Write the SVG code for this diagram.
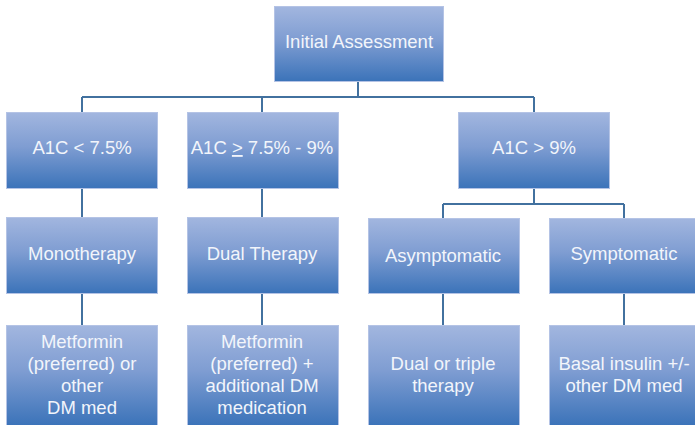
<svg xmlns="http://www.w3.org/2000/svg" width="695" height="425" viewBox="0 0 695 425">
  <defs>
    <linearGradient id="boxFill" x1="0" y1="0" x2="0" y2="1">
      <stop offset="0" stop-color="#a2b6df"/>
      <stop offset="0.45" stop-color="#7f9dd2"/>
      <stop offset="1" stop-color="#3b73b9"/>
    </linearGradient>
  </defs>
  <style>
    .box { fill: url(#boxFill); stroke: #b4c3e5; stroke-width: 1; }
    .lbl { font-family: "Liberation Sans", Arial, sans-serif; font-size: 18.5px; fill: #f2f5fb; text-anchor: middle; }
    .conn { fill: none; stroke: #42719f; stroke-width: 2; }
  </style>

  <g id="connectors">
    <path class="conn" d="M358 81 V97 M82 97 H534 M82 97 V112 M262 97 V112 M534 97 V112"/>
    <path class="conn" d="M82 189 V217 M262 189 V217"/>
    <path class="conn" d="M534 189 V204 M443 204 H624 M443 204 V218 M624 204 V218"/>
    <path class="conn" d="M82 293 V325 M262 293 V325 M443 293 V325 M624 293 V325"/>
  </g>

  <g id="initial">
    <rect class="box" x="274.5" y="6.5" width="169" height="75"/>
    <text class="lbl" x="359" y="48">Initial Assessment</text>
  </g>

  <g id="a1c-low">
    <rect class="box" x="6.5" y="112.5" width="151" height="76"/>
    <text class="lbl" x="82" y="154">A1C &lt; 7.5%</text>
  </g>
  <g id="a1c-mid">
    <rect class="box" x="187.5" y="112.5" width="151" height="76"/>
    <text class="lbl" x="262" y="154">A1C <tspan style="text-decoration: underline">&gt;</tspan> 7.5% - 9%</text>
  </g>
  <g id="a1c-high">
    <rect class="box" x="458.5" y="112.5" width="151" height="76"/>
    <text class="lbl" x="534" y="154">A1C &gt; 9%</text>
  </g>

  <g id="monotherapy">
    <rect class="box" x="6.5" y="217.5" width="151" height="76"/>
    <text class="lbl" x="82" y="260">Monotherapy</text>
  </g>
  <g id="dual-therapy">
    <rect class="box" x="187.5" y="217.5" width="151" height="76"/>
    <text class="lbl" x="262" y="260">Dual Therapy</text>
  </g>
  <g id="asymptomatic">
    <rect class="box" x="368.5" y="218.5" width="151" height="75"/>
    <text class="lbl" x="443" y="262">Asymptomatic</text>
  </g>
  <g id="symptomatic">
    <rect class="box" x="549.5" y="218.5" width="151" height="75"/>
    <text class="lbl" x="624" y="260">Symptomatic</text>
  </g>

  <g id="mono-drugs">
    <rect class="box" x="6.5" y="325.5" width="151" height="100"/>
    <text class="lbl" x="82" y="348">Metformin</text>
    <text class="lbl" x="82" y="370">(preferred) or</text>
    <text class="lbl" x="82" y="392">other</text>
    <text class="lbl" x="82" y="414">DM med</text>
  </g>
  <g id="dual-drugs">
    <rect class="box" x="187.5" y="325.5" width="151" height="100"/>
    <text class="lbl" x="262" y="348">Metformin</text>
    <text class="lbl" x="262" y="370">(preferred) +</text>
    <text class="lbl" x="262" y="392">additional DM</text>
    <text class="lbl" x="262" y="414">medication</text>
  </g>
  <g id="asym-drugs">
    <rect class="box" x="368.5" y="325.5" width="151" height="100"/>
    <text class="lbl" x="443" y="370">Dual or triple</text>
    <text class="lbl" x="443" y="392">therapy</text>
  </g>
  <g id="sym-drugs">
    <rect class="box" x="549.5" y="325.5" width="151" height="100"/>
    <text class="lbl" x="624" y="370">Basal insulin +/-</text>
    <text class="lbl" x="624" y="392">other DM med</text>
  </g>
</svg>
